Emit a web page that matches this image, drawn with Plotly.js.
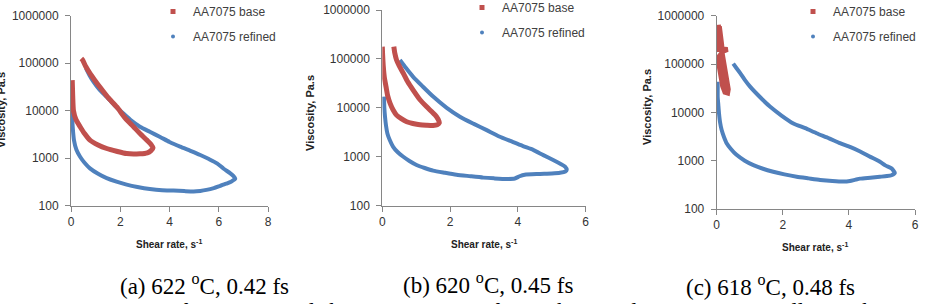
<!DOCTYPE html>
<html>
<head>
<meta charset="utf-8">
<script src="https://cdn.plot.ly/plotly-3.0.1.min.js"></script>
<style>
html,body{margin:0;padding:0;background:#fff;overflow:hidden;}
#chart{width:929px;height:304px;}
</style>
</head>
<body>
<div id="chart"></div>
<script>
// ---------- DATA ----------
var seriesNames = ["AA7075 base", "AA7075 refined"];
var panelCaptions = ["(a) 622 <sup>o</sup>C, 0.42 fs", "(b) 620 <sup>o</sup>C, 0.45 fs", "(c) 618 <sup>o</sup>C, 0.48 fs"];
var yTickVals = [100, 1000, 10000, 100000, 1000000];
var yTickText = ["100", "1000", "10000", "100000", "1000000"];
var xRanges = [[0, 8], [0, 6], [0, 6]];

// Panel (a)
var baseA_x = [0.05,0.07,0.1,0.2,0.37,0.55,0.77,1.1,1.45,1.85,2.26,2.8,3.1,3.25,3.33,3.25,3.08,2.8,2.54,2.2,1.86,1.5,1.18,0.95,0.77,0.6,0.47,0.42];
var baseA_y = [44000,20000,10000,6500,4600,3300,2400,1900,1600,1400,1250,1240,1300,1450,1650,1950,2400,3300,4600,7000,12000,19000,31000,45000,61000,85000,117000,125000];
var refA_x = [0.03,0.07,0.12,0.22,0.37,0.55,0.77,1.1,1.45,1.85,2.26,2.7,3.2,3.7,4.16,4.6,4.98,5.25,5.5,5.8,6.06,6.3,6.5,6.67,6.6,6.47,6.2,5.93,5.6,5.25,4.85,4.43,4.0,3.62,3.2,2.8,2.45,2.13,1.8,1.45,1.15,0.91,0.75,0.61];
var refA_y = [10000,4500,2400,1500,1070,800,610,470,380,320,278,248,225,212,208,203,200,205,215,235,262,290,320,370,420,480,600,780,960,1170,1430,1750,2200,2800,3600,4600,6200,8700,12500,19500,28000,41000,56000,78000];

// Panel (b)
var baseB_x = [0.0,0.01,0.03,0.06,0.11,0.16,0.23,0.32,0.42,0.56,0.72,0.9,1.11,1.3,1.5,1.62,1.68,1.67,1.6,1.47,1.31,1.1,0.91,0.75,0.62,0.5,0.42,0.37,0.34];
var baseB_y = [178000,120000,69000,42000,27000,17500,12300,9000,7100,6000,5200,4800,4500,4400,4350,4500,4900,5400,6600,8200,10500,15000,23000,34000,51000,72000,95000,130000,178000];
var refB_x = [0.05,0.06,0.08,0.11,0.15,0.22,0.32,0.45,0.62,0.8,1.01,1.25,1.5,1.85,2.19,2.6,2.98,3.3,3.67,3.91,4.05,4.2,4.65,5.0,5.24,5.4,5.44,5.39,5.25,5.04,4.75,4.45,4.15,3.86,3.45,3.08,2.7,2.29,1.9,1.5,1.2,0.91,0.7,0.52];
var refB_y = [17000,10000,6600,4300,3000,2200,1600,1250,1000,820,680,590,520,470,430,400,375,362,352,360,400,430,445,455,470,500,540,630,720,860,1080,1380,1650,2000,2600,3500,4700,6600,10000,17000,27000,43000,65000,95000];

// Panel (c)
var baseC_x = [0.05,0.07,0.05,0.02,0.15,0.33,0.2,0.06,0.08,0.12,0.18,0.25,0.33,0.35,0.3,0.25,0.2,0.17,0.15,0.13,0.1,0.08];
var baseC_y = [650000,420000,280000,200000,205000,200000,185000,140000,88000,55000,35000,26000,25000,30000,45000,70000,110000,160000,250000,370000,520000,600000];
var refC_x = [0.03,0.03,0.03,0.05,0.07,0.1,0.15,0.22,0.3,0.43,0.6,0.85,1.11,1.4,1.71,2.05,2.42,2.78,3.13,3.5,3.83,4.03,4.2,4.34,4.65,4.94,5.15,5.29,5.39,5.35,5.29,5.1,4.94,4.65,4.34,4.05,3.73,3.4,3.02,2.68,2.32,1.97,1.61,1.3,1.01,0.85,0.71,0.6,0.5];
var refC_y = [43000,30000,21000,14000,9500,6300,4300,3100,2300,1750,1320,1000,810,680,590,520,465,430,400,380,370,380,405,425,445,465,480,500,560,620,690,800,950,1200,1550,1900,2300,2900,3700,4700,5900,8500,13200,21000,34000,47000,65000,82000,102000];

// ---------- STYLE / LAYOUT ----------
var W = 929, H = 304;
function px(x){ return x / W; }
function py(y){ return 1 - y / H; }
var RED = "#C0504D", BLUE = "#4F81BD";
var FONT = "Liberation Sans, Arial, sans-serif";
var SERIF = "Liberation Serif, Times New Roman, serif";

var baseX = [baseA_x, baseB_x, baseC_x], baseY = [baseA_y, baseB_y, baseC_y];
var refX = [refA_x, refB_x, refC_x], refY = [refA_y, refB_y, refC_y];
var sfx = ["", "2", "3"];
var traces = [];
for (var i = 0; i < 3; i++) {
  traces.push({x: refX[i], y: refY[i], xaxis: "x" + sfx[i], yaxis: "y" + sfx[i], type: "scatter", mode: "lines",
    line: {color: BLUE, width: 4, shape: "spline", smoothing: 0.6}, showlegend: false, hoverinfo: "skip"});
  traces.push({x: baseX[i], y: baseY[i], xaxis: "x" + sfx[i], yaxis: "y" + sfx[i], type: "scatter", mode: "lines",
    line: {color: RED, width: 5, shape: i === 2 ? "linear" : "spline", smoothing: 0.6}, showlegend: false, hoverinfo: "skip"});
  // legend entries (marker style as in the original)
  traces.push({x: [null], y: [null], xaxis: "x" + sfx[i], yaxis: "y" + sfx[i], type: "scatter", mode: "markers",
    name: seriesNames[0], legend: "legend" + sfx[i], legendgroup: "b" + i,
    marker: {symbol: "square", size: 5, color: RED}});
  traces.push({x: [null], y: [null], xaxis: "x" + sfx[i], yaxis: "y" + sfx[i], type: "scatter", mode: "markers",
    name: seriesNames[1], legend: "legend" + sfx[i], legendgroup: "r" + i,
    marker: {symbol: "circle", size: 4, color: BLUE}});
}

// plot-area pixel boxes [left, right, top, bottom]
var boxes = [[71, 268, 15.7, 205.7], [382.3, 585.7, 10, 205.7], [716.7, 915, 15.7, 209]];
var legendPos = [[153, -3], [462, -7], [793, -3]];
var ytitleX = [1, 310, 647], ytitleY = [110, 113, 107];
var xtitleX = [169, 484, 815], xtitleY = [244, 244, 247];
var captionX = [204, 488, 770], captionY = [284, 283, 285];

var layout = {
  width: W, height: H, margin: {l: 0, r: 0, t: 0, b: 0, autoexpand: false},
  paper_bgcolor: "#fff", plot_bgcolor: "rgba(0,0,0,0)",
  font: {family: FONT, size: 12, color: "#333"},
  annotations: [], showlegend: true
};
for (var i = 0; i < 3; i++) {
  var b = boxes[i];
  layout["xaxis" + sfx[i]] = {domain: [px(b[0]), px(b[1])], anchor: "y" + sfx[i], range: xRanges[i], dtick: 2,
    showgrid: false, zeroline: false, showline: true, linecolor: "#868686", linewidth: 1,
    ticks: "outside", ticklen: 5, tickcolor: "#868686", ticklabelstandoff: 0,
    tickfont: {family: FONT, size: 12, color: "#333"}, fixedrange: true};
  layout["yaxis" + sfx[i]] = {domain: [py(b[3]), py(b[2])], anchor: "x" + sfx[i], type: "log", range: [2, 6],
    tickvals: yTickVals, ticktext: yTickText,
    showgrid: false, zeroline: false, showline: true, linecolor: "#868686", linewidth: 1,
    ticks: "outside", ticklen: 5, tickcolor: "#868686", ticklabelstandoff: 4,
    tickfont: {family: FONT, size: 12, color: "#333"}, fixedrange: true};
  layout["legend" + sfx[i]] = {x: px(legendPos[i][0]), y: py(legendPos[i][1]), xanchor: "left", yanchor: "top",
    bgcolor: "rgba(0,0,0,0)", font: {family: FONT, size: 12, color: "#404040"},
    traceorder: "grouped", tracegroupgap: 6};
  layout.annotations.push({xref: "paper", yref: "paper", x: px(ytitleX[i]), y: py(ytitleY[i]),
    text: "<b>Viscosity, Pa.s</b>", textangle: -90, showarrow: false, xanchor: "center", yanchor: "middle",
    font: {family: FONT, size: 11, color: "#222"}});
  layout.annotations.push({xref: "paper", yref: "paper", x: px(xtitleX[i]), y: py(xtitleY[i]),
    text: "<b>Shear rate, s<sup>-1</sup></b>", showarrow: false, xanchor: "center", yanchor: "middle",
    font: {family: FONT, size: 10, color: "#222"}});
  layout.annotations.push({xref: "paper", yref: "paper", x: px(captionX[i]), y: py(captionY[i]),
    text: panelCaptions[i], showarrow: false, xanchor: "center", yanchor: "middle",
    font: {family: SERIF, size: 23, color: "#000"}});
}
layout.annotations.push({xref: "paper", yref: "paper", x: px(25), y: py(297), xanchor: "left", yanchor: "top",
  text: "7: Comparison of viscosity and shear rate curves of 7075 base and 7075-0.02%Ti alloy with",
  showarrow: false, font: {family: SERIF, size: 23, color: "#000"}});

Plotly.newPlot("chart", traces, layout, {displayModeBar: false, staticPlot: true});
</script>
</body>
</html>
